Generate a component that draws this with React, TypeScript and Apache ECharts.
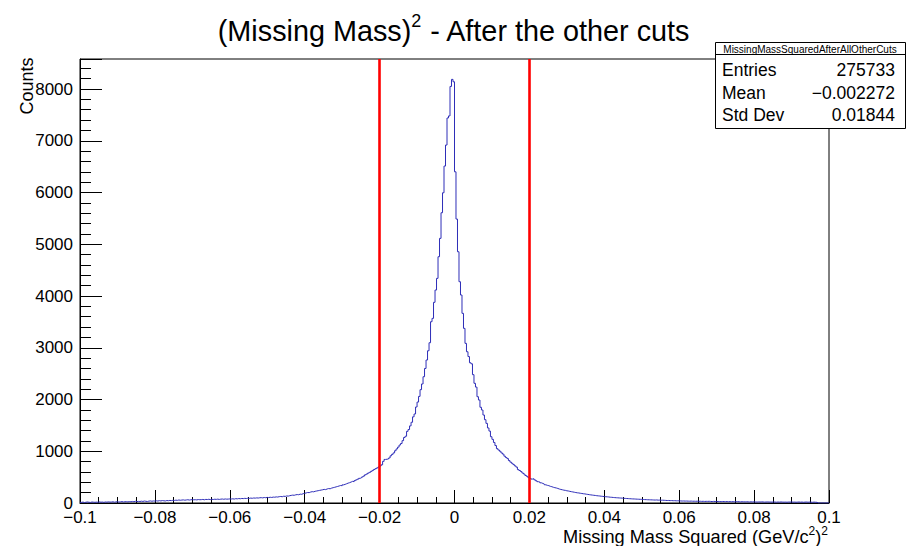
import React, { useEffect, useRef } from 'react';
import * as echarts from 'echarts';

const X_MIN = -0.1;
const X_MAX = 0.1;
const BIN_WIDTH = 0.0004;
const Y_MAX = 8580;

// 500 bins of width 0.0004 from -0.1 to 0.1 (rows of 10 bins)
const counts: number[] = [
  12, 18, 9, 15, 20, 14, 11, 19, 16, 13,
  17, 14, 21, 15, 18, 12, 20, 16, 22, 17,
  19, 23, 16, 21, 25, 18, 22, 27, 20, 24,
  26, 21, 28, 24, 30, 25, 33, 27, 31, 29,
  35, 30, 38, 33, 29, 36, 40, 34, 39, 37,
  42, 38, 45, 40, 47, 43, 39, 48, 44, 50,
  46, 52, 49, 55, 51, 58, 53, 57, 60, 54,
  59, 63, 57, 62, 66, 61, 64, 60, 67, 63,
  65, 69, 62, 70, 67, 72, 66, 71, 68, 73,
  70, 75, 69, 74, 77, 72, 78, 74, 76, 79,
  77, 81, 76, 84, 80, 86, 82, 88, 85, 90,
  87, 92, 89, 95, 91, 97, 94, 99, 96, 101,
  103, 99, 106, 102, 108, 105, 111, 107, 114, 112,
  118, 115, 122, 126, 121, 131, 128, 136, 133, 141,
  147, 152, 149, 158, 163, 160, 171, 168, 180, 187,
  195, 203, 200, 212, 219, 216, 226, 232, 238, 244,
  250, 256, 263, 259, 271, 279, 275, 288, 296, 303,
  312, 320, 329, 338, 334, 351, 360, 372, 384, 393,
  405, 418, 412, 433, 447, 461, 477, 488, 503, 521,
  545, 560, 578, 593, 612, 630, 648, 664, 679, 698,
  715, 738, 805, 842, 846, 852, 870, 912, 940, 968,
  1010, 1045, 1080, 1120, 1150, 1205, 1265, 1290, 1385, 1420,
  1490, 1560, 1665, 1720, 1855, 1950, 2060, 2190, 2300, 2440,
  2600, 2763, 2942, 3097, 3503, 3568, 3878, 4115, 4341, 4759,
  5114, 5609, 5995, 6511, 6917, 7440, 7480, 8050, 8186, 8140,
  6400, 5487, 4855, 4276, 4019, 3665, 3375, 3085, 2923, 2830,
  2710, 2690, 2480, 2313, 2240, 2054, 1990, 1850, 1797, 1700,
  1610, 1539, 1450, 1390, 1281, 1230, 1170, 1110, 1050, 1024,
  1000, 968, 945, 905, 880, 858, 820, 790, 767, 742,
  718, 694, 645, 628, 608, 580, 560, 532, 515, 490,
  476, 462, 470, 448, 430, 412, 405, 390, 378, 366,
  352, 341, 335, 322, 315, 304, 296, 290, 281, 270,
  262, 256, 248, 244, 236, 232, 225, 219, 214, 208,
  202, 197, 194, 188, 184, 179, 176, 170, 166, 161,
  157, 153, 149, 146, 141, 138, 135, 131, 128, 124,
  121, 119, 116, 112, 110, 107, 104, 102, 100, 98,
  96, 94, 91, 89, 87, 85, 83, 81, 79, 78,
  76, 74, 73, 71, 70, 68, 66, 65, 63, 62,
  61, 60, 58, 57, 59, 55, 56, 53, 54, 52,
  50, 48, 49, 46, 47, 44, 45, 42, 43, 41,
  40, 38, 39, 37, 38, 36, 35, 37, 34, 35,
  33, 35, 32, 34, 31, 33, 30, 32, 31, 33,
  30, 28, 31, 29, 27, 30, 28, 26, 29, 27,
  26, 28, 25, 27, 24, 26, 23, 25, 27, 24,
  22, 25, 23, 21, 24, 22, 20, 23, 21, 22,
  20, 18, 21, 19, 22, 20, 17, 19, 21, 18,
  19, 17, 20, 18, 16, 19, 17, 20, 18, 16,
  18, 15, 19, 17, 20, 16, 18, 15, 17, 19,
  16, 18, 14, 17, 19, 15, 18, 16, 14, 17,
  15, 13, 0, 0, 0, 0, 0, 0, 0, 0,
];

const cutLines = [-0.02, 0.02];
const statsTitle = 'MissingMassSquaredAfterAllOtherCuts';
const statsLabels = ['Entries', 'Mean', 'Std Dev'];
const statsValues = ['275733', '\u22120.002272', '0.01844'];

const FONT = '"Liberation Sans", Arial, Helvetica, sans-serif';

export default function App() {
  const ref = useRef<HTMLDivElement>(null);

  useEffect(() => {
    document.body.style.margin = '0';
    if (!ref.current) return;
    const chart = echarts.init(ref.current, undefined, { renderer: 'svg' });

    const data: number[][] = counts.map((c, i) => [X_MIN + i * BIN_WIDTH, c]);
    data.push([X_MAX, counts[counts.length - 1]]);

    const fmtX = (v: number) => {
      const r = Math.round(v * 1000) / 1000;
      if (r === 0) return '0';
      return (r < 0 ? '\u2212' : '') + String(Math.abs(r));
    };

    const statsX = 715, statsY = 42, statsW = 190, statsH = 86;

    chart.setOption({
      animation: false,
      backgroundColor: '#ffffff',
      textStyle: { fontFamily: FONT },
      grid: {
        left: 80, right: 79, top: 59, bottom: 43,
        show: true, borderColor: '#000', borderWidth: 1, backgroundColor: 'transparent',
      },
      xAxis: {
        type: 'value', min: X_MIN, max: X_MAX, interval: 0.02,
        axisLine: { show: true, onZero: false, lineStyle: { color: '#000', width: 1 } },
        axisTick: { show: true, inside: true, length: 13, lineStyle: { color: '#000' } },
        minorTick: { show: true, splitNumber: 4, length: 6, lineStyle: { color: '#000' } },
        splitLine: { show: false },
        axisLabel: { color: '#000', fontSize: 17, fontFamily: FONT, margin: 6, formatter: fmtX },
      },
      yAxis: {
        type: 'value', min: 0, max: Y_MAX, interval: 1000,
        axisLine: { show: true, onZero: false, lineStyle: { color: '#000', width: 1 } },
        axisTick: { show: true, inside: true, length: 22, lineStyle: { color: '#000' } },
        minorTick: { show: true, splitNumber: 5, length: 11, lineStyle: { color: '#000' } },
        splitLine: { show: false },
        axisLabel: {
          color: '#000', fontSize: 17, fontFamily: FONT, margin: 7,
          formatter: (v: number) => (v % 1000 === 0 ? String(v) : ''),
        },
      },
      series: [
        {
          type: 'line',
          step: 'end',
          data,
          showSymbol: false,
          symbol: 'none',
          lineStyle: { color: '#2e2eb8', width: 1 },
          z: 2,
          markLine: {
            silent: true,
            symbol: ['none', 'none'],
            label: { show: false },
            lineStyle: { color: '#ff0000', width: 2.6, type: 'solid' },
            data: cutLines.map((v) => ({ xAxis: v })),
          },
        },
      ],
      graphic: [
        {
          type: 'text', x: 454, y: 28, z: 10,
          style: {
            text: '{a|(Missing Mass)}{s|2}{a| - After the other cuts}',
            align: 'center', verticalAlign: 'middle',
            rich: {
              a: { fontSize: 28.8, fontFamily: FONT, fill: '#000', lineHeight: 34, verticalAlign: 'bottom' },
              s: { fontSize: 18, fontFamily: FONT, fill: '#000', lineHeight: 34, verticalAlign: 'top', padding: [1, 0, 0, 0] },
            },
          },
        },
        {
          type: 'text', x: 828, y: 535, z: 10,
          style: {
            text: '{a|Missing Mass Squared (GeV/c}{s|2}{a|)}{s|2}',
            align: 'right', verticalAlign: 'middle',
            rich: {
              a: { fontSize: 18.2, fontFamily: FONT, fill: '#000', lineHeight: 22, verticalAlign: 'bottom' },
              s: { fontSize: 12, fontFamily: FONT, fill: '#000', lineHeight: 22, verticalAlign: 'top', padding: [1, 0, 0, 0] },
            },
          },
        },
        {
          type: 'text', x: 27, y: 86, rotation: Math.PI / 2, z: 10,
          style: { text: 'Counts', fontSize: 18, fontFamily: FONT, fill: '#000', align: 'center', verticalAlign: 'middle' },
        },
        {
          type: 'rect', z: 20,
          shape: { x: statsX + 0.5, y: statsY + 0.5, width: statsW, height: statsH },
          style: { fill: '#fff', stroke: '#000', lineWidth: 1 },
        },
        {
          type: 'line', z: 21,
          shape: { x1: statsX, y1: statsY + 12.5, x2: statsX + statsW, y2: statsY + 12.5 },
          style: { stroke: '#000', lineWidth: 1 },
        },
        {
          type: 'text', z: 22, x: statsX + statsW / 2, y: statsY + 7,
          style: { text: statsTitle, fontSize: 10, fontFamily: FONT, fill: '#000', align: 'center', verticalAlign: 'middle' },
        },
        ...statsLabels.map((l, i) => ({
          type: 'text', z: 22, x: 722, y: 70 + i * 22.5,
          style: { text: l, fontSize: 17.5, fontFamily: FONT, fill: '#000', align: 'left', verticalAlign: 'middle' },
        })),
        ...statsValues.map((v, i) => ({
          type: 'text', z: 22, x: 895, y: 70 + i * 22.5,
          style: { text: v, fontSize: 17.5, fontFamily: FONT, fill: '#000', align: 'right', verticalAlign: 'middle' },
        })),
      ],
    });

    return () => chart.dispose();
  }, []);

  return <div ref={ref} style={{ width: 908, height: 546 }} />;
}
